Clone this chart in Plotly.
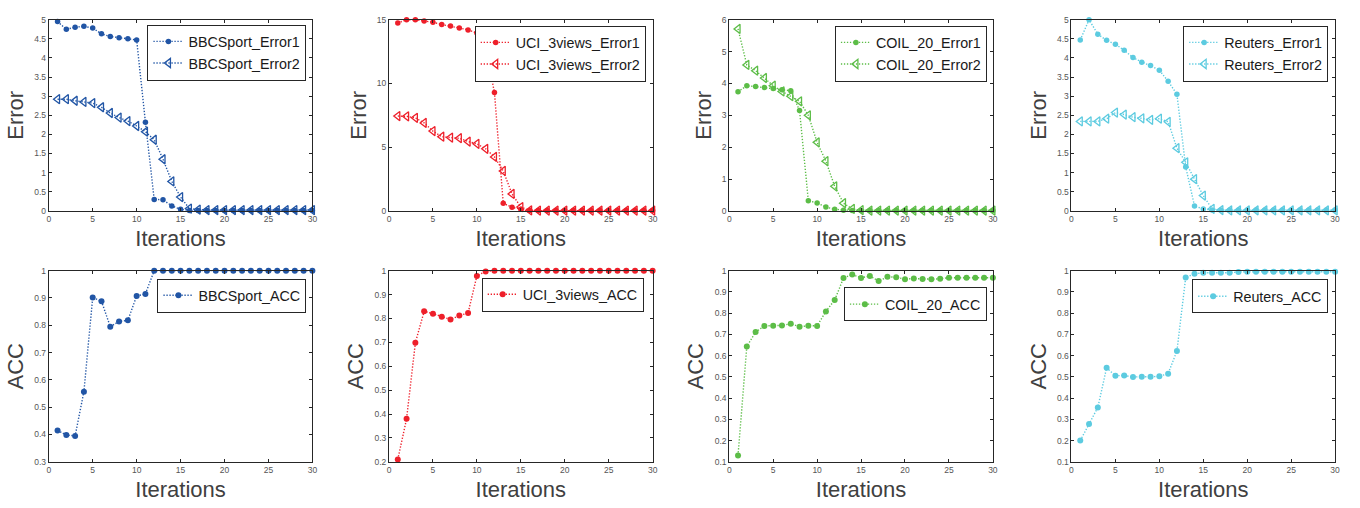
import plotly.graph_objects as go

iterations = list(range(1, 31))

# ---- Error data (top row) ----
bbc_err1 = [4.95, 4.75, 4.80, 4.83, 4.78, 4.63, 4.56, 4.53, 4.50, 4.47, 2.32, 0.30, 0.29, 0.13, 0.04,
            0.01, 0.01, 0.01, 0.01, 0.01, 0.01, 0.01, 0.01, 0.01, 0.01, 0.01, 0.01, 0.01, 0.01, 0.01]
bbc_err2 = [2.92, 2.92, 2.88, 2.85, 2.82, 2.71, 2.56, 2.44, 2.35, 2.22, 2.07, 1.86, 1.35, 0.77, 0.36,
            0.06, 0.03, 0.02, 0.02, 0.02, 0.02, 0.02, 0.02, 0.02, 0.02, 0.02, 0.02, 0.02, 0.02, 0.02]
uci_err1 = [14.74, 15.0, 15.0, 14.9, 14.8, 14.62, 14.5, 14.35, 14.2, 13.95, 12.87, 9.28, 0.59, 0.28, 0.13,
            0.03, 0.02, 0.02, 0.02, 0.02, 0.02, 0.02, 0.02, 0.02, 0.02, 0.02, 0.02, 0.02, 0.02, 0.02]
uci_err2 = [7.44, 7.42, 7.30, 6.90, 6.26, 5.82, 5.75, 5.70, 5.44, 5.26, 4.87, 4.23, 3.13, 1.33, 0.30,
            0.03, 0.02, 0.02, 0.02, 0.02, 0.02, 0.02, 0.02, 0.02, 0.02, 0.02, 0.02, 0.02, 0.02, 0.02]
coil_err1 = [3.74, 3.93, 3.90, 3.87, 3.84, 3.80, 3.77, 3.15, 0.32, 0.25, 0.12, 0.05, 0.02, 0.01, 0.01,
             0.01, 0.01, 0.01, 0.01, 0.01, 0.01, 0.01, 0.01, 0.01, 0.01, 0.01, 0.01, 0.01, 0.01, 0.01]
coil_err2 = [5.71, 4.58, 4.40, 4.17, 3.93, 3.75, 3.60, 3.44, 3.00, 2.15, 1.56, 0.77, 0.24, 0.06, 0.02,
             0.01, 0.01, 0.01, 0.01, 0.01, 0.01, 0.01, 0.01, 0.01, 0.01, 0.01, 0.01, 0.01, 0.01, 0.01]
reu_err1 = [4.47, 5.0, 4.62, 4.46, 4.36, 4.20, 4.01, 3.89, 3.80, 3.68, 3.39, 3.05, 1.15, 0.13, 0.05,
            0.02, 0.02, 0.02, 0.02, 0.02, 0.02, 0.02, 0.02, 0.02, 0.02, 0.02, 0.02, 0.02, 0.02, 0.02]
reu_err2 = [2.34, 2.34, 2.34, 2.41, 2.57, 2.52, 2.45, 2.42, 2.38, 2.41, 2.33, 1.64, 1.27, 0.83, 0.40,
            0.05, 0.02, 0.01, 0.01, 0.01, 0.01, 0.01, 0.01, 0.01, 0.01, 0.01, 0.01, 0.01, 0.01, 0.01]

# ---- ACC data (bottom row) ----
bbc_acc = [0.415, 0.398, 0.395, 0.557, 0.902, 0.888, 0.795, 0.814, 0.818, 0.907, 0.915] + [1.0] * 19
uci_acc = [0.21, 0.38, 0.698, 0.83, 0.82, 0.807, 0.796, 0.812, 0.823, 0.978, 0.997] + [1.0] * 19
coil_acc = [0.13, 0.643, 0.711, 0.740, 0.741, 0.742, 0.750, 0.736, 0.741, 0.740, 0.808, 0.862, 0.965,
            0.982, 0.966, 0.975, 0.951, 0.971, 0.969, 0.960, 0.963, 0.961, 0.960, 0.962, 0.967, 0.967,
            0.967, 0.967, 0.967, 0.967]
reu_acc = [0.20, 0.278, 0.356, 0.543, 0.505, 0.507, 0.499, 0.501, 0.500, 0.503, 0.515, 0.622, 0.968,
           0.985, 0.990, 0.990, 0.990, 0.990, 0.994, 0.995, 0.995, 0.995, 0.995, 0.995, 0.995, 0.995,
           0.995, 0.995, 0.995, 0.995]

datasets = ["BBCSport", "UCI_3views", "COIL_20", "Reuters"]
colors = ["#2155a5", "#ee1f2a", "#5cbd47", "#5ccbe0"]
err1 = [bbc_err1, uci_err1, coil_err1, reu_err1]
err2 = [bbc_err2, uci_err2, coil_err2, reu_err2]
accs = [bbc_acc, uci_acc, coil_acc, reu_acc]

x_ticks = [0, 5, 10, 15, 20, 25, 30]
err_ranges = [[0, 5], [0, 15], [0, 6], [0, 5]]
err_ticks = [
    [0, 0.5, 1, 1.5, 2, 2.5, 3, 3.5, 4, 4.5, 5],
    [0, 5, 10, 15],
    [0, 1, 2, 3, 4, 5, 6],
    [0, 0.5, 1, 1.5, 2, 2.5, 3, 3.5, 4, 4.5, 5],
]
acc_ranges = [[0.3, 1], [0.2, 1], [0.1, 1], [0.1, 1]]
acc_ticks = [
    [0.3, 0.4, 0.5, 0.6, 0.7, 0.8, 0.9, 1],
    [0.2, 0.3, 0.4, 0.5, 0.6, 0.7, 0.8, 0.9, 1],
    [0.1, 0.2, 0.3, 0.4, 0.5, 0.6, 0.7, 0.8, 0.9, 1],
    [0.1, 0.2, 0.3, 0.4, 0.5, 0.6, 0.7, 0.8, 0.9, 1],
]


def fmt(v):
    return "%g" % v


W, H = 1360, 508
col_left = [47, 389, 731, 1075]
col_w = 265
rows_px = [(15, 210), (271, 466)]
legend_right_inset = [[6, 7, 6, 7], [6, 9, 6, 7]]
legend_top_inset = [[5, 6, 6, 6], [8, 7, 17, 9]]

FONT = "Liberation Sans, Arial, Helvetica, sans-serif"
AX_COLOR = "#262626"
TICK_COLOR = "#555555"
TITLE_COLOR = "#404040"
DOT = "1.3px,1.7px"

fig = go.Figure()
layout = dict(
    width=W, height=H, margin=dict(l=0, r=0, t=0, b=0),
    paper_bgcolor="white", plot_bgcolor="white",
    font=dict(family=FONT, color=TITLE_COLOR),
    showlegend=True,
)

for r in range(2):
    for c in range(4):
        idx = r * 4 + c + 1
        xa = "xaxis" if idx == 1 else "xaxis%d" % idx
        ya = "yaxis" if idx == 1 else "yaxis%d" % idx
        xref = "x" if idx == 1 else "x%d" % idx
        yref = "y" if idx == 1 else "y%d" % idx
        leg = "legend" if idx == 1 else "legend%d" % idx
        top, bot = rows_px[r]
        x0 = col_left[c] / W
        x1 = (col_left[c] + col_w) / W
        y0 = 1 - bot / H
        y1 = 1 - top / H
        common = dict(
            showline=True, linecolor=AX_COLOR, linewidth=1, mirror="allticks",
            ticks="inside", ticklen=3, tickwidth=1, tickcolor=AX_COLOR,
            showgrid=False, zeroline=False,
            tickfont=dict(family=FONT, size=8.5, color=TICK_COLOR),
        )
        layout[xa] = dict(
            domain=[x0, x1], anchor=yref, range=[0, 30],
            tickmode="array", tickvals=x_ticks, ticktext=[fmt(v) for v in x_ticks],
            title=dict(text="Iterations", font=dict(size=22, color=TITLE_COLOR, family=FONT), standoff=7),
            **common,
        )
        if r == 0:
            yr, yt, ytitle = err_ranges[c], err_ticks[c], "Error"
        else:
            yr, yt, ytitle = acc_ranges[c], acc_ticks[c], "ACC"
        layout[ya] = dict(
            domain=[y0, y1], anchor=xref, range=yr,
            tickmode="array", tickvals=yt, ticktext=[fmt(v) for v in yt],
            title=dict(text=ytitle, font=dict(size=22, color=TITLE_COLOR, family=FONT), standoff=4),
            **common,
        )
        layout[leg] = dict(
            x=(col_left[c] + col_w - legend_right_inset[r][c]) / W,
            y=1 - (top + legend_top_inset[r][c]) / H,
            xanchor="right", yanchor="top",
            bgcolor="white", bordercolor=AX_COLOR, borderwidth=1,
            font=dict(family=FONT, size=14.3, color="#1a1a1a"),
            tracegroupgap=0, itemwidth=30,
        )
        col = colors[c]
        name = datasets[c]
        if r == 0:
            fig.add_trace(go.Scatter(
                x=iterations, y=err1[c], name=name + "_Error1", mode="lines+markers",
                line=dict(color=col, width=1.4, dash=DOT),
                marker=dict(symbol="circle", size=5.5, color=col),
                xaxis=xref, yaxis=yref, legend=leg, cliponaxis=False,
            ))
            fig.add_trace(go.Scatter(
                x=iterations, y=err2[c], name=name + "_Error2", mode="lines+markers",
                line=dict(color=col, width=1.4, dash=DOT),
                marker=dict(symbol="triangle-left-open", size=8, color=col, line=dict(width=1.3, color=col)),
                xaxis=xref, yaxis=yref, legend=leg, cliponaxis=False,
            ))
        else:
            fig.add_trace(go.Scatter(
                x=iterations, y=accs[c], name=name + "_ACC", mode="lines+markers",
                line=dict(color=col, width=1.4, dash=DOT),
                marker=dict(symbol="circle", size=6, color=col),
                xaxis=xref, yaxis=yref, legend=leg, cliponaxis=False,
            ))

fig.update_layout(**layout)
fig.write_html(
    "out.html",
    config={"displayModeBar": False},
    post_script="document.body.style.margin='0';document.body.style.overflow='hidden';",
)
